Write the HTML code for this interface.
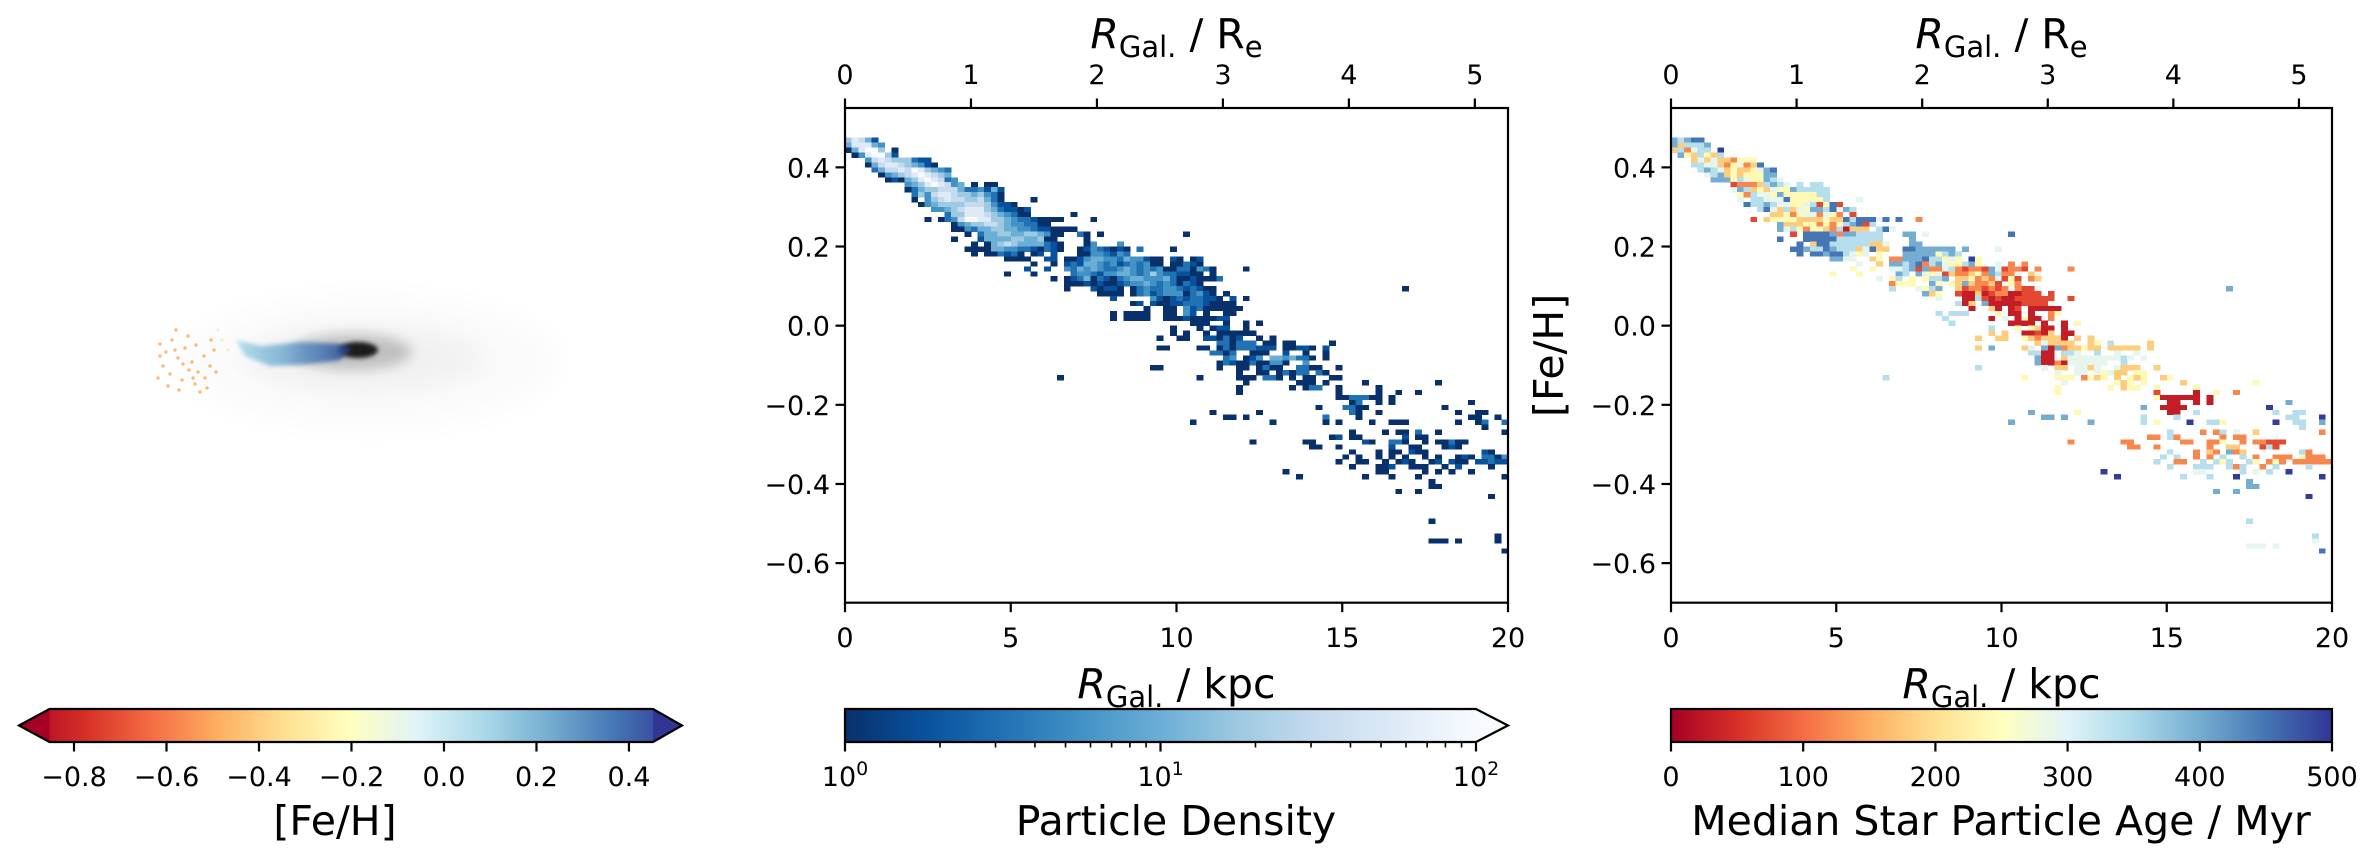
<!DOCTYPE html>
<html><head><meta charset="utf-8">
<style>
html,body{margin:0;padding:0;background:#fff;}
svg{display:block;font-family:"DejaVu Sans","Liberation Sans",sans-serif;}
</style></head>
<body>
<svg id="fig" width="2379" height="863" viewBox="0 0 2379 863" xmlns="http://www.w3.org/2000/svg">
<defs>
  <filter id="blur2" x="-50%" y="-50%" width="200%" height="200%"><feGaussianBlur stdDeviation="2"/></filter>
  <filter id="blur6" x="-50%" y="-50%" width="200%" height="200%"><feGaussianBlur stdDeviation="6"/></filter>
  <filter id="blur14" x="-50%" y="-50%" width="200%" height="200%"><feGaussianBlur stdDeviation="14"/></filter>
  <linearGradient id="stripGrad" x1="0" x2="1" y1="0" y2="0">
    <stop offset="0" stop-color="#abd9e9"/><stop offset="0.4" stop-color="#74add1"/>
    <stop offset="0.75" stop-color="#4575b4"/><stop offset="1" stop-color="#233a80"/>
  </linearGradient>
  <linearGradient id="fehGrad" x1="0" x2="1" y1="0" y2="0">
    <stop offset="0" stop-color="#a50026"/><stop offset="0.1" stop-color="#d73027"/><stop offset="0.2" stop-color="#f46d43"/>
    <stop offset="0.3" stop-color="#fdae61"/><stop offset="0.4" stop-color="#fee090"/><stop offset="0.5" stop-color="#ffffbf"/>
    <stop offset="0.6" stop-color="#e0f3f8"/><stop offset="0.7" stop-color="#abd9e9"/><stop offset="0.8" stop-color="#74add1"/>
    <stop offset="0.9" stop-color="#4575b4"/><stop offset="1" stop-color="#313695"/>
  </linearGradient>
  <linearGradient id="bluesGrad" x1="0" x2="1" y1="0" y2="0">
    <stop offset="0" stop-color="#08306b"/><stop offset="0.125" stop-color="#08519c"/><stop offset="0.25" stop-color="#2171b5"/>
    <stop offset="0.375" stop-color="#4292c6"/><stop offset="0.5" stop-color="#6baed6"/><stop offset="0.625" stop-color="#9ecae1"/>
    <stop offset="0.75" stop-color="#c6dbef"/><stop offset="0.875" stop-color="#deebf7"/><stop offset="1" stop-color="#f7fbff"/>
  </linearGradient>
</defs>

<!-- Left panel: galaxy image -->
<g>
  <ellipse cx="370" cy="362" rx="190" ry="68" fill="#000" opacity="0.015" filter="url(#blur14)"/>
  <ellipse cx="365" cy="358" rx="120" ry="34" fill="#000" opacity="0.035" filter="url(#blur14)"/>
  <ellipse cx="352" cy="352" rx="60" ry="18" fill="#000" opacity="0.2" filter="url(#blur6)"/>
  <ellipse cx="358" cy="350" rx="20" ry="8" fill="#000" opacity="0.85" filter="url(#blur2)"/>
  <polygon points="236,340 262,346 300,342 340,344 352,349 340,360 300,365 270,366 245,356" fill="url(#stripGrad)" opacity="0.85" filter="url(#blur2)"/>
  <g fill="#fdae61" opacity="0.85">
    <circle cx="160" cy="344" r="1.7"/><circle cx="166" cy="352" r="1.7"/><circle cx="172" cy="340" r="1.7"/>
    <circle cx="178" cy="358" r="1.7"/><circle cx="185" cy="348" r="1.7"/><circle cx="192" cy="362" r="1.7"/>
    <circle cx="198" cy="372" r="1.7"/><circle cx="204" cy="356" r="1.7"/><circle cx="210" cy="366" r="1.7"/>
    <circle cx="163" cy="366" r="1.7"/><circle cx="170" cy="374" r="1.7"/><circle cx="182" cy="380" r="1.7"/>
    <circle cx="195" cy="384" r="1.7"/><circle cx="205" cy="378" r="1.7"/><circle cx="214" cy="350" r="1.7"/>
    <circle cx="176" cy="330" r="1.7"/><circle cx="188" cy="336" r="1.7"/><circle cx="158" cy="378" r="1.7"/>
    <circle cx="200" cy="392" r="1.7"/><circle cx="216" cy="372" r="1.7"/><circle cx="168" cy="386" r="1.7"/>
    <circle cx="175" cy="350" r="1.7"/><circle cx="189" cy="370" r="1.7"/><circle cx="196" cy="345" r="1.7"/>
    <circle cx="183" cy="364" r="1.7"/><circle cx="207" cy="388" r="1.7"/><circle cx="160" cy="356" r="1.7"/>
    <circle cx="179" cy="390" r="1.7"/><circle cx="193" cy="378" r="1.7"/><circle cx="211" cy="340" r="1.7"/>
  </g>
  <g fill="#e6f2c8" opacity="0.8">
    <circle cx="222" cy="340" r="1.5"/><circle cx="228" cy="350" r="1.5"/><circle cx="218" cy="330" r="1.5"/>
  </g>
</g>

<!-- Left colorbar -->
<g>
  <polygon points="19,725.5 49.5,709 653,709 682,725.5 653,742 49.5,742" fill="url(#fehGrad)"/>
  <polygon points="19,725.5 49.5,709 49.5,742" fill="#a50026"/>
  <polygon points="682,725.5 653,709 653,742" fill="#313695"/>
  <polygon points="19,725.5 49.5,709 653,709 682,725.5 653,742 49.5,742" fill="none" stroke="#000" stroke-width="2.2"/>
  <g id="fehTicks"></g>
  <text x="335" y="835" text-anchor="middle" font-size="41">[Fe/H]</text>
</g>

<g id="midPanel"></g>
<g id="rightPanel"></g>
</svg>

<script>
// ---------- data ----------
const xDomain = [0, 20];           // kpc
const yDomain = [-0.7, 0.55];      // [Fe/H]
const xBinWidth = 0.2;             // kpc per column
const yBinHeight = 0.0125;         // dex per row (rows counted downward from yDomain[1])
const xTickValues = [0, 5, 10, 15, 20];
const yTickValues = [-0.6, -0.4, -0.2, 0.0, 0.2, 0.4];
const yTickLabels = ["\u22120.6", "\u22120.4", "\u22120.2", "0.0", "0.2", "0.4"];
const reTickValues = [0, 1, 2, 3, 4, 5];
const effectiveRadiusKpc = 3.8;
const fehTickValues = [-0.8, -0.6, -0.4, -0.2, 0.0, 0.2, 0.4];
const fehTickLabels = ["\u22120.8", "\u22120.6", "\u22120.4", "\u22120.2", "0.0", "0.2", "0.4"];
const fehRange = [-0.853, 0.452];
const ageTickValues = [0, 100, 200, 300, 400, 500];
const densityTickExponents = [0, 1, 2];
const densityValues = [1, 1.78, 3.16, 5.62, 10, 17.8, 31.6, 56.2, 100];
const ageCodes = "abcdefghij";
const ageValues = [30, 70, 120, 180, 240, 290, 340, 400, 450, 495];
const D28 = "............................";
const D20 = "....................";
const densityRows = [
[6,0,"68752"],[7,0,"588854"],[8,0,"158996.1"],[9,1,"1489962"],[10,3,"4787666322"],
[11,3,"15788765421"],[12,4,"357787986543"],[13,5,"14567898765"],[14,6,"12156898734"],
[15,9,"456898745.1.11"],[16,9,"135667775334252"],[17,10,"36478876656431"],[18,10,"1.467877667531....1"],
[19,11,"145666677764221"],[20,13,"445678886532212"],[21,15,"3668887654311......1"],
[22,12,"1.1347998866543321111....1"],[23,16,"145667765443311"],[24,16,"1143556655443221111"],
[25,18,"1.3556655665411..31.1............1"],[26,16,"1...255556655611....1"],[27,19,"1.156765555321...14...4"],
[28,18,"111155443321321..12432121.3....1"],[29,19,"1.113231.12.2...11443243"],[30,24,"1111..22.112455443544211.21.12"],
[31,28,"1..1.232554342343411.11321"],[32,27,"2..2..43545433454343411331431....1"],[33,24,"1...1.....34432445543464332211.1"],
[34,31,"1.123513213455444531121113"],[35,33,"111212112344543431321"],[36,33,"1...21221.1343344323211"+D28+"1"],
[37,38,"1111.1342344413421.1"],[38,40,"2.....42123233221.2.1"],[39,43,"12.2112233321111"],[40,45,"1..11.423111111"],
[41,40,"1.1111..11.42.1..11"],[42,40,"1.1111..1112111122"],[43,52,"111..1..1.1"],[44,49,"1...1.122..1"],
[45,49,"1.1..1.111111"],[46,47,"1..11..221312..1.1"],[47,56,"331333.11.11.....1"],[48,47,"11....11.131333222.11221.2"],
[49,55,"3313..111..2..1..1"],[50,57,"34.124.5545331.1"],[51,56,"13211311441..4"],[52,46,"11........1..11.1311..3311..1"],
[53,59,"1..11.13133.31"],[54,32,"1"+D20+"1.....111.331.1.11..11"],[55,60,"1.......111.1.....1..........1"],
[56,59,"1.......1.133..1.....1"],[57,59,"1..............1.....1..1..1"],[58,74,"1133311.1"],[59,76,"13..1.1...........1"],
[60,71,"1...3311...........1"],[61,55,"1......1.............31..1...........1..11"],[62,57,"11.1...........3....1................11..1"],
[63,52,"1...........1.......1.1....1..111.......1..13..3"],[64,96,"1"],[65,76,"1....1.11.3..1.........1"],
[66,73,"12.11......2.11"],[67,61,"1.......11.......21..331..1.11311"],[68,70,"11..1.......2..11...121"],
[69,76,"1...1.11.211........21"],[70,75,"1.1..1.1.1..1.1..121.3314"],[71,74,"1..11..1.121..12.211.22322"],
[72,76,"1...112..111..1.2....1"],[73,66,"1.............11.....1.1.1..1"],[74,68,"1.........1...1...1............1"],
[75,88,"1"],[76,88,"11"],[77,83,"1..1"],[78,97,"1"],[83,88,"1"],[86,98,"1"],[87,88,"111.1.....1"],[89,99,"1"]
];
const ageRows = [
[6,0,"hghii"],[7,0,"hdgggh"],[8,0,"dgcfgg.j"],[9,1,"hedgedg"],[10,3,"dfdfddceee"],[11,3,"ggffdcefcdi"],
[12,4,"ghgfdeddefhi"],[13,5,"fghdedeeehh"],[14,6,"hhhegfeehgf"],[15,9,"bcccdghgf.g.gg"],[16,9,"fhgdedfeehggggg"],
[17,10,"ecgffeheeeeegg"],[18,10,"f.ggfffieeeeeg....f"],[19,11,"igghgffeefgbeib"],[20,13,"gifdgdfehhgifhg"],
[21,15,"ddeceffcfec.b"],[22,12,"b.deeeeddddeddigiiifi.i..c"],[23,16,"hdddeececeghibg"],[24,16,"hfgeceedcgaddd.gif"],
[25,18,"b.iiiihchhgggg...hh.f............i"],[26,16,"i...iiiiiggggggg....h"],[27,19,"i.diiggggggddf...hh"],
[28,18,"iihggihgggdfidd..iihhhhhh.h....f"],[29,19,"i.iihiigfef.e...hhhhheghg"],[30,24,"hhff..de.cchhhiggefe.je"],
[31,28,"f..d.hhghicghfeeghe..f.c.c"],[32,27,"e..e..ffghbhccfgcbccbhfbccb.c....c"],[33,24,"e...e.....hg.hfefbdccdechgccf.df"],
[34,31,"f.eg.e.eggh.ddecdcfbeb.cd"],[35,33,"ceee..he.edhdccdb.ec"],[36,33,"g...fegh..dbccbcbc.cbbf"+D28+"h"],
[37,38,"hde..baadabccaabbb.b"],[38,40,"f...aagbabaabbbbbb..b"],[39,43,"gad.haaaaabbbbf"],[40,45,"a..da.ab.aaaaa"],
[41,40,"g.ggg....e.aa.a..ce"],[42,41,"g......a.f.aeaa.c"],[43,42,"g........aaaa.a..a.e"],[44,48,"g...e.edaa.a"],
[45,48,"d.d..aabad.aa"],[46,46,"d..dd..edcddda.d.d"],[47,55,"dfdddd..de.g.....d"],[48,46,"d.h....df.hahcddedd.ddddd.d"],
[49,54,"ggaa.ggf..g..f..f"],[50,55,"haa.dffffffffgf.f"],[51,55,"haacaffffff..g"],[52,46,"g.........f.dd.ffdf..fddd..d"],
[53,58,"f..ff.fefdd.ee"],[54,32,"g"+D20+"e....eee.cede.d.ede..de"],[55,59,"f.......ede.e.....d..........e"],
[56,58,"e.......e.dee..e.....e"],[57,58,"e..............b.....a..e..c"],[58,73,"eaaaaaa.a"],[59,75,"aa..a.a...........h"],
[60,71,"h..aaaa............j"],[61,54,"h......e.............aa..g...........g..gg"],[62,56,"hh.h...........g....g................gg...j"],
[63,51,"h...........h.......g.e....j..gge.......j..gg..h"],[64,95,"g"],[65,75,"g....c.cg.f..d.........c"],
[66,72,"cc.gc......c.cc"],[67,60,"c.......cc.......cc..cce..c.ccbbb"],[68,69,"cc..c.......c..dd...bgb"],
[69,75,"g...c.dc.hcd........gc"],[70,74,"g.g..c.c.g..g.c..ccc.eccc"],[71,73,"g..cc..g.geg..ge.cec.cccccc"],
[72,75,"g...ggg..gcg..c.g....g"],[73,65,"j.............ff.....g.f.g..j"],[74,67,"j.........g...g...j............j"],
[75,87,"h"],[76,87,"hh"],[77,82,"h..h"],[78,96,"j"],[83,87,"g"],[86,97,"g"],[87,97,"f"],[88,87,"fff.f"],[89,98,"i"]
];

// ---------- helpers ----------
const NS = "http://www.w3.org/2000/svg";
function mk(tag, attrs, parent) {
  const e = document.createElementNS(NS, tag);
  for (const k in attrs) e.setAttribute(k, attrs[k]);
  if (parent) parent.appendChild(e);
  return e;
}
function hex2rgb(h){return [parseInt(h.slice(1,3),16),parseInt(h.slice(3,5),16),parseInt(h.slice(5,7),16)];}
function cmap(stops, t) {
  t = Math.max(0, Math.min(1, t));
  const n = stops.length - 1, p = t * n, i = Math.min(n - 1, Math.floor(p)), f = p - i;
  const a = hex2rgb(stops[i]), b = hex2rgb(stops[i + 1]);
  return "rgb(" + a.map((v, k) => Math.round(v + (b[k] - v) * f)).join(",") + ")";
}
const BLUES = ["#f7fbff","#deebf7","#c6dbef","#9ecae1","#6baed6","#4292c6","#2171b5","#08519c","#08306b"];
const RDYLBU = ["#a50026","#d73027","#f46d43","#fdae61","#fee090","#ffffbf","#e0f3f8","#abd9e9","#74add1","#4575b4","#313695"];

const TOP = 108, BOTTOM = 602.7;
function makeScales(left, right) {
  return {
    x: v => left + (v - xDomain[0]) / (xDomain[1] - xDomain[0]) * (right - left),
    y: v => BOTTOM - (v - yDomain[0]) / (yDomain[1] - yDomain[0]) * (BOTTOM - TOP),
    left, right
  };
}

function drawAxes(g, s, showYLabel) {
  const TL = 9.5, SW = 2.2;
  xTickValues.forEach(v => {
    const X = s.x(v);
    const t = mk("line", {x1: X, x2: X, y1: BOTTOM, y2: BOTTOM + TL, stroke: "#000", "stroke-width": SW}, g);
    
    
    const lb = mk("text", {x: X, y: 647, "text-anchor": "middle", "font-size": 27}, g);
    lb.textContent = String(v);
    
    
  });
  reTickValues.forEach(v => {
    const X = s.x(v * effectiveRadiusKpc);
    const t = mk("line", {x1: X, x2: X, y1: TOP, y2: TOP - TL, stroke: "#000", "stroke-width": SW}, g);
    
    
    const lb = mk("text", {x: X, y: 84, "text-anchor": "middle", "font-size": 27}, g);
    lb.textContent = String(v);
    
    
  });
  yTickValues.forEach((v, i) => {
    const Y = s.y(v);
    const t = mk("line", {x1: s.left, x2: s.left - TL, y1: Y, y2: Y, stroke: "#000", "stroke-width": SW}, g);
    
    
    const lb = mk("text", {x: s.left - 15, y: Y + 10, "text-anchor": "end", "font-size": 27}, g);
    lb.textContent = yTickLabels[i];
    
    
  });
  const fr = mk("rect", {x: s.left, y: TOP, width: s.right - s.left, height: BOTTOM - TOP, fill: "none", stroke: "#000", "stroke-width": SW}, g);
  
  
  const cx = (s.left + s.right) / 2;
  const xl = mk("text", {x: cx, y: 698, "text-anchor": "middle", "font-size": 41}, g);
  xl.innerHTML = '<tspan font-style="italic">R</tspan><tspan font-size="29" dy="9">Gal.</tspan><tspan dy="-9">  / kpc</tspan>';
  
  
  const tl = mk("text", {x: cx, y: 48, "text-anchor": "middle", "font-size": 41}, g);
  tl.innerHTML = '<tspan font-style="italic">R</tspan><tspan font-size="29" dy="9">Gal.</tspan><tspan dy="-9">  / R</tspan><tspan font-size="29" dy="9">e</tspan>';
  
  
  if (showYLabel) {
    const yl = mk("text", {x: 0, y: 0, "text-anchor": "middle", "font-size": 41, transform: "translate(1563," + ((TOP + BOTTOM) / 2) + ") rotate(-90)"}, g);
    yl.textContent = "[Fe/H]";
    
    
  }
}

function drawCells(g, s, rows, colorOf, name) {
  const cg = mk("g", {"shape-rendering": "crispEdges"}, g);
  
  
  rows.forEach(([row, start, str]) => {
    const fehTop = yDomain[1] - row * yBinHeight;
    const fehBot = fehTop - yBinHeight;
    for (let i = 0; i < str.length; i++) {
      const ch = str[i];
      if (ch === ".") continue;
      const c = start + i;
      const r0 = c * xBinWidth, r1 = r0 + xBinWidth;
      const X0 = s.x(r0), X1 = s.x(r1), Y0 = s.y(fehTop), Y1 = s.y(fehBot);
      const cell = mk("rect", {x: X0.toFixed(2), y: Y0.toFixed(2), width: (X1 - X0 + 0.3).toFixed(2), height: (Y1 - Y0 + 0.3).toFixed(2), fill: colorOf(ch)}, cg);
      
      
    }
  });
}

// ---------- middle panel ----------
const mid = document.getElementById("midPanel");
const sMid = makeScales(845, 1508);
drawCells(mid, sMid, densityRows, ch => {
  const d = densityValues[parseInt(ch, 10) - 1];
  return cmap(BLUES, 1 - Math.log10(d) / 2);
}, "density-heatmap");
drawAxes(mid, sMid, false);

(function () {
  const g = mk("g", {}, mid);
  
  
  const L = 845, R = 1476, T = 709, B = 742;
  const lx = v => L + Math.log10(v) / 2 * (R - L);
  const bar = mk("rect", {x: L, y: T, width: R - L, height: B - T, fill: "url(#bluesGrad)"}, g);
  
  
  mk("polygon", {points: `${R},${T} 1508,${(T + B) / 2} ${R},${B}`, fill: "#f7fbff"}, g);
  mk("polygon", {points: `${L},${T} ${R},${T} 1508,${(T + B) / 2} ${R},${B} ${L},${B}`, fill: "none", stroke: "#000", "stroke-width": 2.2}, g);
  densityTickExponents.forEach(e => {
    const X = lx(Math.pow(10, e));
    const t = mk("line", {x1: X, x2: X, y1: B, y2: B + 9.5, stroke: "#000", "stroke-width": 2.2}, g);
    
    
    const lb = mk("text", {x: X, y: 786, "text-anchor": "middle", "font-size": 27}, g);
    lb.innerHTML = '10<tspan font-size="19" dy="-11">' + e + '</tspan>';
    
    
  });
  [1, 10].forEach(base => {
    for (let m = 2; m <= 9; m++) {
      const X = lx(base * m);
      mk("line", {x1: X, x2: X, y1: B, y2: B + 5.5, stroke: "#000", "stroke-width": 1.6}, g);
    }
  });
  const ti = mk("text", {x: 1176, y: 835, "text-anchor": "middle", "font-size": 41}, g);
  ti.textContent = "Particle Density";
  
  
})();

// ---------- right panel ----------
const right = document.getElementById("rightPanel");
const sRight = makeScales(1671, 2332);
drawCells(right, sRight, ageRows, ch => {
  const a = ageValues[ageCodes.indexOf(ch)];
  return cmap(RDYLBU, a / 500);
}, "age-heatmap");
drawAxes(right, sRight, true);

(function () {
  const g = mk("g", {}, right);
  
  
  const L = 1671, R = 2332, T = 709, B = 742;
  const bar = mk("rect", {x: L, y: T, width: R - L, height: B - T, fill: "url(#fehGrad)", stroke: "#000", "stroke-width": 2.2}, g);
  
  
  ageTickValues.forEach(v => {
    const X = L + v / 500 * (R - L);
    const t = mk("line", {x1: X, x2: X, y1: B, y2: B + 9.5, stroke: "#000", "stroke-width": 2.2}, g);
    
    
    const lb = mk("text", {x: X, y: 786, "text-anchor": "middle", "font-size": 27}, g);
    lb.textContent = String(v);
    
    
  });
  const ti = mk("text", {x: 2001, y: 835, "text-anchor": "middle", "font-size": 41}, g);
  ti.textContent = "Median Star Particle Age / Myr";
  
  
})();

// ---------- feh colorbar ticks ----------
(function () {
  const g = document.getElementById("fehTicks");
  const L = 49.5, R = 653, B = 742;
  fehTickValues.forEach((v, i) => {
    const X = L + (v - fehRange[0]) / (fehRange[1] - fehRange[0]) * (R - L);
    const t = mk("line", {x1: X, x2: X, y1: B, y2: B + 9.5, stroke: "#000", "stroke-width": 2.2}, g);
    
    
    const lb = mk("text", {x: X, y: 786, "text-anchor": "middle", "font-size": 27}, g);
    lb.textContent = fehTickLabels[i];
    
    
  });
})();
</script>
</body></html>
